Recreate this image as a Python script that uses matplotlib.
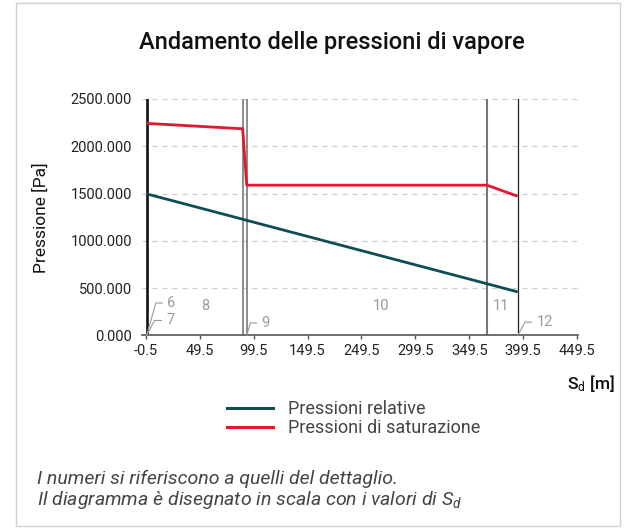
"""Vapour pressure profile through a wall build-up (Glaser-style diagram)."""

import matplotlib.pyplot as plt
import numpy as np
from matplotlib.lines import Line2D
from matplotlib.patches import Rectangle

plt.rcParams["font.family"] = ["Roboto", "DejaVu Sans"]
plt.rcParams["mathtext.fontset"] = "custom"
plt.rcParams["mathtext.rm"] = "Roboto"
plt.rcParams["mathtext.it"] = "Roboto:italic"

# Equivalent air-layer thickness at each layer interface [m]
SD_INTERFACES = [0.0, 89.2, 93.0, 316.0, 344.5]
# Relative (partial) vapour pressure at the interfaces [Pa]
P_RELATIVE = [1497, 1229, 1217, 547, 461]
# Saturation vapour pressure at the interfaces [Pa]
P_SATURATION = [2242, 2185, 1589, 1589, 1472]

X_TICKS = [-0.5, 49.5, 99.5, 149.5, 199.5, 249.5, 299.5, 349.5, 399.5]
X_TICK_LABELS = ["-0.5", "49.5", "99.5", "149.5", "249.5",
                 "299.5", "349.5", "399.5", "449.5"]
Y_TICKS = [0, 500, 1000, 1500, 2000, 2500]

# Layer numbers written inside each layer
LAYER_NAMES = ["8", "10", "11"]
LAYER_LABEL_X = [54.3, 217.6, 329.0]
# Zero-thickness layers, tagged with a leader at their interface
THIN_LAYERS = ["6", "7", "9", "12"]
THIN_LAYER_X = [0.0, 0.0, 93.0, 344.5]

TEAL = "#0e4d55"
RED = "#e3182f"
GREY_TEXT = "#9a9a9a"

fig = plt.figure(figsize=(6.36, 5.29), dpi=100)
fig.patches.append(Rectangle((16 / 636, 3 / 529), 604 / 636, 523 / 529,
                             transform=fig.transFigure, fill=False,
                             edgecolor="#d0d0d0", linewidth=1.0))

ax = fig.add_axes([0.2228, 0.3658, 0.686, 0.4471])
ax.set_xlim(-4.5, 400.5)
ax.set_ylim(0, 2500)

# interface lines: outer faces dark, inner faces grey
interface_styles = [
    ("#111111", 1.9),
    ("#6e6e6e", 1.1),
    ("#6e6e6e", 1.1),
    ("#777777", 1.5),
    ("#222222", 0.9),
]
for x, (color, lw) in zip(SD_INTERFACES, interface_styles):
    ax.axvline(x, color=color, linewidth=lw, zorder=2)

ax.plot(SD_INTERFACES, P_RELATIVE, color=TEAL, linewidth=2.0,
        solid_capstyle="butt", zorder=3)
ax.plot(SD_INTERFACES, P_SATURATION, color=RED, linewidth=2.0,
        solid_capstyle="butt", zorder=3)

ax.set_xticks(X_TICKS)
ax.set_xticklabels(X_TICK_LABELS)
ax.set_yticks(Y_TICKS)
ax.set_yticklabels([f"{v:.3f}" for v in Y_TICKS])
ax.tick_params(axis="x", length=3.2, width=1.0, color="#555555", pad=3,
               labelsize=10.5, labelcolor="#222222")
ax.tick_params(axis="y", length=0, pad=7, labelsize=10.5,
               labelcolor="#222222")
ax.yaxis.grid(True, color="#cccccc", linestyle=(0, (4, 4)), linewidth=0.9)
ax.set_axisbelow(True)
for side in ("left", "right", "top"):
    ax.spines[side].set_visible(False)
ax.spines["bottom"].set_color("#555555")
ax.spines["bottom"].set_linewidth(1.2)

for name, x in zip(LAYER_NAMES, LAYER_LABEL_X):
    ax.text(x, 314, name, color=GREY_TEXT, fontsize=10.5,
            ha="center", va="center")

leader_offsets = [(15.0, 23.4, 74), (14.4, 10.8, 62), (10.8, 9.0, 74),
                  (13.7, 9.6, 61)]
for name, x, (dx, dy, angle) in zip(THIN_LAYERS, THIN_LAYER_X,
                                    leader_offsets):
    ax.annotate(name, xy=(x, 0), xytext=(dx, dy),
                textcoords="offset points", color=GREY_TEXT, fontsize=10.5,
                ha="left", va="center",
                arrowprops=dict(arrowstyle="-", color=GREY_TEXT,
                                linewidth=0.8, relpos=(0, 0.5),
                                shrinkA=1.5, shrinkB=0,
                                connectionstyle=f"angle,angleA=0,"
                                                f"angleB={angle},rad=0"))

fig.text(331.7 / 636, 1 - 43 / 529, "Andamento delle pressioni di vapore",
         ha="center", va="center", fontsize=17, fontweight="medium",
         color="#111111")
fig.text(41 / 636, 1 - 218 / 529, "Pressione [Pa]", rotation=90,
         ha="center", va="center", fontsize=12.5, color="#111111")
fig.text(615 / 636, 1 - 383 / 529, r"S$_\mathrm{d}$ [m]",
         ha="right", va="center", fontsize=12.5, fontweight="medium",
         color="#111111")

handles = [Line2D([], [], color=TEAL, linewidth=2.2),
           Line2D([], [], color=RED, linewidth=2.2)]
fig.legend(handles, ["Pressioni relative", "Pressioni di saturazione"],
           loc="upper left", bbox_to_anchor=(227 / 636, 1 - 400 / 529),
           frameon=False, fontsize=13, borderpad=0, borderaxespad=0,
           handlelength=2.55, handletextpad=0.83, labelspacing=0.05,
           labelcolor="#444444")

fig.text(37 / 636, 1 - 484 / 529,
         "I numeri si riferiscono a quelli del dettaglio.",
         ha="left", va="baseline", fontsize=14, style="italic",
         color="#444444")
fig.text(37 / 636, 1 - 505 / 529,
         r"Il diagramma è disegnato in scala con i valori di S$_\mathit{d}$",
         ha="left", va="baseline", fontsize=14, style="italic",
         color="#444444")

fig.savefig("out.png", dpi=100)
